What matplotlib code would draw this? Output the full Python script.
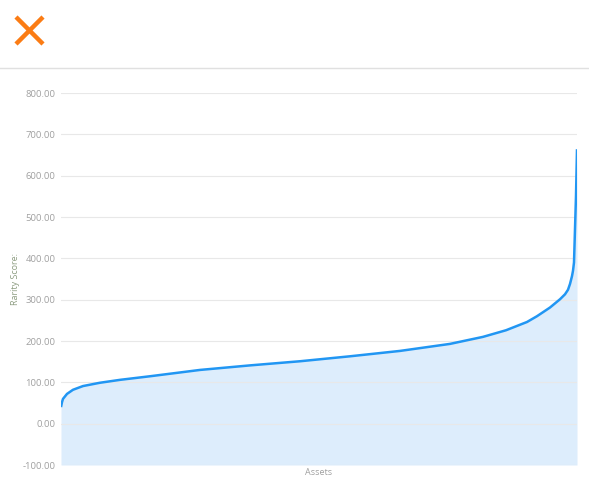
import numpy as np
import matplotlib.pyplot as plt
from matplotlib.lines import Line2D

# rarity score, sampled along sorted asset rank (0..516)
asset_rank = [0, 1, 2, 6, 12, 22, 39, 59, 90, 139, 189, 239, 289, 339, 389,
              422, 445, 466, 476, 489, 499, 504, 507, 509, 511, 512, 513,
              514, 515, 516]
rarity_score = [40, 52, 60, 72, 82, 91, 99, 106, 115, 130, 141, 151, 163,
                176, 193, 210, 226, 246, 260, 281, 301, 313, 324, 338, 357,
                370, 390, 471, 551, 664]
y_ticks = [-100, 0, 100, 200, 300, 400, 500, 600, 700, 800]

plt.rcParams['font.family'] = ['Open Sans', 'DejaVu Sans']

fig = plt.figure(figsize=(5.89, 4.9), dpi=100)
W, H = 589, 490
ax = fig.add_axes([61 / W, 1 - 465 / H, (577 - 61) / W, (465 - 93) / H])

ax.fill_between(asset_rank, rarity_score, -100, color='#ddedfc', lw=0, zorder=1)
ax.plot(asset_rank, rarity_score, color='#2196f3', lw=1.8, zorder=3,
        solid_capstyle='butt', solid_joinstyle='round')

ax.set_xlim(0, 516)
ax.set_ylim(-100, 800)
ax.set_yticks(y_ticks)
ax.set_yticklabels([f'{v:.2f}' for v in y_ticks])
ax.set_xticks([])
ax.grid(axis='y', color='#e8e8e8', lw=0.8, zorder=2)
ax.set_axisbelow(False)
for s in ax.spines.values():
    s.set_visible(False)
ax.tick_params(axis='y', length=0, pad=4, labelsize=6.8, labelcolor='#a0a0a0')

ax.set_ylabel('Rarity Score:', fontsize=6.5, color='#8c9c80')
ax.yaxis.set_label_coords(-41 / 516, 0.5)
ax.set_xlabel('Assets', fontsize=6.5, color='#a0a0a0')
ax.xaxis.set_label_coords(0.5, -3 / 372)

# header: close icon and separator line
fig.add_artist(Line2D([16 / W, 43 / W], [1 - 17 / H, 1 - 44 / H],
                      color='#fb7c14', lw=3.2, solid_capstyle='butt'))
fig.add_artist(Line2D([16 / W, 43 / W], [1 - 44 / H, 1 - 17 / H],
                      color='#fb7c14', lw=3.2, solid_capstyle='butt'))
fig.add_artist(Line2D([0, 1], [1 - 68 / H, 1 - 68 / H], color='#e0e0e0', lw=1))

fig.savefig('out.png', dpi=100)
